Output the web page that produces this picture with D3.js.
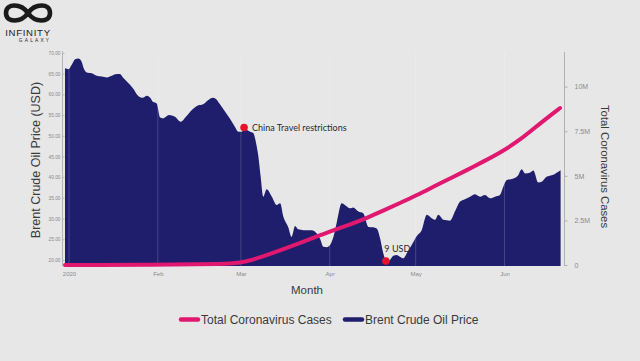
<!DOCTYPE html>
<html>
<head>
<meta charset="utf-8">
<script src="https://cdn.jsdelivr.net/npm/d3@7"></script>
<style>
  html, body { margin: 0; padding: 0; background: #e7e7e7; }
  svg { display: block; }
</style>
</head>
<body>
<svg id="chart" width="640" height="361"></svg>
<script>
// ---- Data (day = days since 1 Jan 2020) ----
const oilDays = [-1.4,-0.2,0.9,2.1,3.3,4.4,5.2,6.2,7.9,9.7,11.4,13.2,14.9,16.7,17.8,18.9,20.6,22.3,24.1,25.7,27.2,28.5,29.3,30.6,31.8,32.8,34.9,37.0,39.0,40.8,42.8,45.0,46.8,48.5,50.2,51.3,52.7,54.5,56.2,57.9,59.1,60.3,61.4,63.2,64.3,65.3,66.1,66.9,67.8,69.0,70.8,72.5,73.7,74.8,76.5,77.7,78.9,80.0,81.8,84.7,86.5,87.6,88.8,90.0,91.1,92.3,93.4,95.2,96.3,98.1,99.2,101.0,102.7,104.5,106.2,107.4,108.6,109.7,110.9,112.0,113.2,114.4,115.5,116.7,117.9,119.6,121.4,123.1,124.9,126.6,127.8,128.9,130.7,133.0,134.7,136.5,138.2,140.0,141.7,143.5,145.2,147.0,148.7,150.4,151.6,152.8,155.1,156.8,158.0,159.2,160.9,162.1,163.8,165.0,166.7,168.5,169.6,170.8,171.6];
const oilPrice = [66.3,66.1,67.1,68.5,68.7,67.9,66.2,65.3,65.1,64.5,64.3,64.1,64.5,64.9,64.9,64.0,62.8,61.5,59.7,59.2,59.7,59.1,58.2,57.8,54.4,54.2,55.0,54.6,53.4,54.6,56.2,57.3,57.6,58.6,59.2,58.9,57.6,55.8,54.1,52.2,51.0,51.0,51.6,51.0,50.7,48.2,45.0,40.1,35.3,37.1,35.3,33.3,33.7,30.5,28.0,25.6,28.2,27.4,27.2,27.2,26.4,25.2,23.2,23.1,23.6,25.6,28.9,33.7,33.3,32.5,32.7,31.7,31.3,28.0,27.9,27.6,25.2,21.6,19.6,20.0,21.0,21.2,20.8,20.4,21.6,23.6,25.8,27.2,30.9,30.1,29.7,30.9,29.7,29.5,31.7,34.1,34.7,35.3,35.9,35.3,35.7,34.9,35.3,35.7,37.7,39.3,39.7,40.5,41.9,40.9,41.1,41.6,38.7,38.9,40.1,40.5,40.8,41.3,41.7];

const caseDays  = [-1.4,10,28.3,45.7,52,56.2,59.7,63.2,67.7,73.6,79.6,85.2,91.1,98.1,104.0,109.6,115.5,121.5,127.1,133.0,138.9,144.5,150.4,157.4,164.4,171.4];
const caseMillions = [0,0,0.01,0.04,0.06,0.08,0.13,0.25,0.48,0.82,1.18,1.52,1.88,2.27,2.64,3.04,3.47,3.92,4.38,4.85,5.32,5.79,6.29,7.0,7.94,8.8];

const monthTickDays = [0,31,60,91,121,152];
const monthTickLabels = ["2020","Feb","Mar","Apr","May","Jun"];
const priceTicks = [20,25,30,35,40,45,50,55,60,65,70];
const caseTicks = [0,2.5,5,7.5,10];
const caseTickLabels = ["0","2.5M","5M","7.5M","10M"];

const noteDays = [61.1,110.6];
const notePrices = [52.0,19.75];
const noteLabels = ["China Travel restrictions","9 USD"];

const legendLabels = ["Total Coronavirus Cases","Brent Crude Oil Price"];

// ---- Style ----
const NAVY = "#1f1e6d", PINK = "#e0186f", RED = "#e8112d";
const svg = d3.select("#chart");

const x = d3.scaleLinear().domain([-1.4, 172.5]).range([65, 563.2]);
const yL = d3.scaleLinear().domain([18.55, 70]).range([266, 53]);
const yR = d3.scaleLinear().domain([0, 12]).range([265, 265 - 12 * 17.84]);

const oil = oilDays.map((d, i) => ({d, v: oilPrice[i]}));
const cases = caseDays.map((d, i) => ({d, v: caseMillions[i]}));

// area
svg.append("path")
  .datum(oil)
  .attr("fill", NAVY)
  .attr("d", d3.area().curve(d3.curveMonotoneX)
    .x(p => x(p.d)).y0(yL(18.55)).y1(p => yL(p.v)));

// vertical grid lines
svg.append("g").selectAll("line").data(monthTickDays).join("line")
  .attr("x1", d => x(d)).attr("x2", d => x(d))
  .attr("y1", 52).attr("y2", 266)
  .attr("stroke", "#ffffff").attr("stroke-opacity", 0.22).attr("stroke-width", 0.8);

// cases line
svg.append("path")
  .datum(cases)
  .attr("fill", "none")
  .attr("stroke", PINK)
  .attr("stroke-width", 4)
  .attr("stroke-linecap", "round")
  .attr("d", d3.line().curve(d3.curveBasis).x(p => x(p.d)).y(p => yR(p.v)));

// left axis
const gL = svg.append("g").attr("transform", "translate(64.5,0)")
  .call(d3.axisLeft(yL).tickValues(priceTicks).tickFormat(d3.format(".2f")).tickSize(2).tickPadding(2));
gL.select(".domain").attr("stroke", "#b5b5b5").attr("d", "M-2,51V266");
gL.selectAll(".tick line").attr("stroke", "#b5b5b5");
gL.selectAll("text").attr("fill", "#8a8a8a").style("font", "4.8px 'Liberation Sans', Arial, sans-serif");

// right axis
const gR = svg.append("g").attr("transform", "translate(564.5,0)")
  .call(d3.axisRight(yR).tickValues(caseTicks).tickFormat((d, i) => caseTickLabels[i]).tickSize(3).tickPadding(7));
gR.select(".domain").attr("stroke", "#b0b0b0").attr("d", "M0,52V266");
gR.selectAll(".tick line").attr("stroke", "#b0b0b0");
gR.selectAll("text").attr("fill", "#8a8a8a").style("font", "7px 'Liberation Sans', Arial, sans-serif");

// bottom axis labels
const gB = svg.append("g").attr("transform", "translate(0,267)")
  .call(d3.axisBottom(x).tickValues(monthTickDays).tickFormat((d, i) => monthTickLabels[i]).tickSize(0).tickPadding(5));
gB.select(".domain").remove();
gB.selectAll("text").attr("fill", "#8a8a8a").style("font", "6px 'Liberation Sans', Arial, sans-serif");

// annotations
const notes = svg.append("g");
notes.selectAll("circle").data(noteDays).join("circle")
  .attr("cx", d => x(d)).attr("cy", (d, i) => yL(notePrices[i])).attr("r", 3.8).attr("fill", RED);
notes.append("text").attr("x", x(noteDays[0]) + 8).attr("y", yL(notePrices[0]) + 3)
  .attr("fill", "#2a2a2a").style("font", "9px Lato, 'Open Sans', sans-serif").text(noteLabels[0]);
notes.append("text").attr("x", x(noteDays[1]) - 1.5).attr("y", yL(notePrices[1]) - 9)
  .attr("fill", "#2a2a2a").style("font", "9px Lato, 'Open Sans', sans-serif").text(noteLabels[1]);

// axis titles
const titleFont = "'Liberation Sans', Arial, sans-serif";
svg.append("text").attr("transform", "translate(40,160) rotate(-90)")
  .attr("text-anchor", "middle").attr("fill", "#3a3a3a")
  .style("font-family", titleFont).style("font-size", "12.5px").text("Brent Crude Oil Price (USD)");
svg.append("text").attr("transform", "translate(601,166.5) rotate(90)")
  .attr("text-anchor", "middle").attr("fill", "#3a3a3a")
  .style("font-family", titleFont).style("font-size", "11.3px").text("Total Coronavirus Cases");
svg.append("text").attr("x", 307).attr("y", 293.5)
  .attr("text-anchor", "middle").attr("fill", "#3a3a3a")
  .style("font-family", titleFont).style("font-size", "11.5px").text("Month");

// legend
const legendX = [181, 345];
const legendColors = [PINK, NAVY];
const lg = svg.append("g");
legendLabels.forEach((t, i) => {
  lg.append("line").attr("x1", legendX[i]).attr("x2", legendX[i] + 17)
    .attr("y1", 319.5).attr("y2", 319.5)
    .attr("stroke", legendColors[i]).attr("stroke-width", 4.5).attr("stroke-linecap", "round");
  lg.append("text").attr("x", legendX[i] + 20).attr("y", 323.8)
    .attr("fill", "#3a3a3a").style("font-family", titleFont).style("font-size", "12px").text(t);
});

// logo
const logo = svg.append("g");
logo.append("path")
  .attr("d", "M28,13 C21,3 6,3 6,13 C6,23 21,23 28,13 C35,3 50,3 50,13 C50,23 35,23 28,13")
  .attr("fill", "none").attr("stroke", "#1a1a1a").attr("stroke-width", 4.6);
logo.append("text").attr("x", 28).attr("y", 35.5).attr("text-anchor", "middle")
  .attr("fill", "#1a1a1a").style("font", "9.6px 'Liberation Sans', Arial, sans-serif").style("letter-spacing", "0.7px").text("INFINITY");
logo.append("text").attr("x", 35).attr("y", 41.5).attr("text-anchor", "middle")
  .attr("fill", "#1a1a1a").style("font", "4.8px 'Liberation Sans', Arial, sans-serif").style("letter-spacing", "2.2px").text("GALAXY");
</script>
</body>
</html>
